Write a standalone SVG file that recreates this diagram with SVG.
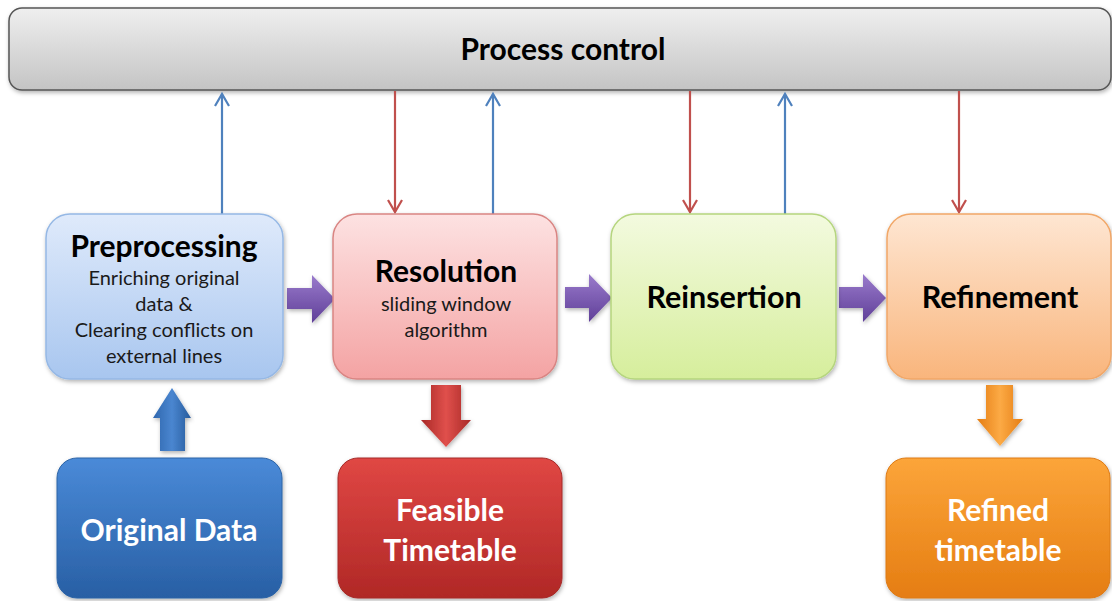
<svg xmlns="http://www.w3.org/2000/svg" width="1112" height="601" viewBox="0 0 1112 601">
<style>
.t{font-family:Lato,"Open Sans","Liberation Sans",sans-serif;text-anchor:middle}
.h{font-weight:bold;font-size:30px;fill:#000}
.m{font-weight:bold;font-size:30.5px;fill:#000}
.s{font-size:20px;fill:#1a1a1a}
.w{font-weight:bold;font-size:30px;fill:#fff}
.blue{stroke:#4f81bd;stroke-width:2.2;fill:none}
.red{stroke:#c0504d;stroke-width:2.2;fill:none}
</style>
<defs>
<filter id="sh" x="-10%" y="-10%" width="120%" height="130%"><feDropShadow dx="1" dy="2" stdDeviation="2" flood-color="#000" flood-opacity="0.3"/></filter>
<linearGradient id="gPC" x1="0" y1="0" x2="0" y2="1"><stop offset="0" stop-color="#efefef"/><stop offset="1" stop-color="#c4c4c4"/></linearGradient>
<linearGradient id="gPre" x1="0" y1="0" x2="0" y2="1"><stop offset="0" stop-color="#dfeafb"/><stop offset="1" stop-color="#a8c6ef"/></linearGradient>
<linearGradient id="gRes" x1="0" y1="0" x2="0" y2="1"><stop offset="0" stop-color="#fde2e2"/><stop offset="1" stop-color="#f4a3a3"/></linearGradient>
<linearGradient id="gRei" x1="0" y1="0" x2="0" y2="1"><stop offset="0" stop-color="#f3fadf"/><stop offset="1" stop-color="#d6ee9c"/></linearGradient>
<linearGradient id="gRef" x1="0" y1="0" x2="0" y2="1"><stop offset="0" stop-color="#fee6d2"/><stop offset="1" stop-color="#f9b57c"/></linearGradient>
<linearGradient id="gOD" x1="0" y1="0" x2="0" y2="1"><stop offset="0" stop-color="#4a8ad8"/><stop offset="1" stop-color="#285fa4"/></linearGradient>
<linearGradient id="gFT" x1="0" y1="0" x2="0" y2="1"><stop offset="0" stop-color="#e04744"/><stop offset="1" stop-color="#b02826"/></linearGradient>
<linearGradient id="gRT" x1="0" y1="0" x2="0" y2="1"><stop offset="0" stop-color="#fca53a"/><stop offset="1" stop-color="#e57d12"/></linearGradient>
<linearGradient id="gPu" x1="0" y1="0" x2="0" y2="1"><stop offset="0" stop-color="#9a7bcc"/><stop offset="1" stop-color="#5f3f98"/></linearGradient>
<linearGradient id="gBA" x1="0" y1="0" x2="1" y2="0"><stop offset="0" stop-color="#2f66ad"/><stop offset="0.5" stop-color="#4a86d0"/><stop offset="1" stop-color="#275b9c"/></linearGradient>
<linearGradient id="gRA" x1="0" y1="0" x2="1" y2="0"><stop offset="0" stop-color="#a82826"/><stop offset="0.5" stop-color="#e0504c"/><stop offset="1" stop-color="#a82826"/></linearGradient>
<linearGradient id="gOA" x1="0" y1="0" x2="1" y2="0"><stop offset="0" stop-color="#e57d12"/><stop offset="0.5" stop-color="#fcaa45"/><stop offset="1" stop-color="#e57d12"/></linearGradient>
</defs>

<g id="process-control">
<rect x="9" y="8" width="1102" height="82" rx="13" fill="url(#gPC)" stroke="#555" stroke-width="1.5" filter="url(#sh)"/>
<text class="t h" x="563" y="60">Process control</text>
</g>

<g id="connectors">
<line class="blue" x1="222" y1="214" x2="222" y2="94"/>
<path class="blue" d="M215,106 L222,94 L229,106"/>
<line class="red" x1="395" y1="91" x2="395" y2="212"/>
<path class="red" d="M388,200 L395,212 L402,200"/>
<line class="blue" x1="493" y1="214" x2="493" y2="94"/>
<path class="blue" d="M486,106 L493,94 L500,106"/>
<line class="red" x1="690" y1="91" x2="690" y2="212"/>
<path class="red" d="M683,200 L690,212 L697,200"/>
<line class="blue" x1="785" y1="214" x2="785" y2="94"/>
<path class="blue" d="M778,106 L785,94 L792,106"/>
<line class="red" x1="959" y1="91" x2="959" y2="212"/>
<path class="red" d="M952,200 L959,212 L966,200"/>
<path d="M287,288 L312,288 L312,275 L335,299 L312,323 L312,309 L287,309 Z" fill="url(#gPu)" filter="url(#sh)"/>
<path d="M565,287 L589,287 L589,274 L612,298 L589,322 L589,308 L565,308 Z" fill="url(#gPu)" filter="url(#sh)"/>
<path d="M839,287 L863,287 L863,274 L886,298 L863,322 L863,308 L839,308 Z" fill="url(#gPu)" filter="url(#sh)"/>
<path d="M160,451 L160,418 L153,418 L172,388 L191,418 L185,418 L185,451 Z" fill="url(#gBA)" filter="url(#sh)"/>
<path d="M431,385 L461,385 L461,420 L471,420 L446,447 L421,420 L431,420 Z" fill="url(#gRA)" filter="url(#sh)"/>
<path d="M986,385 L1013,385 L1013,419 L1023,419 L1000,446 L977,419 L986,419 Z" fill="url(#gOA)" filter="url(#sh)"/>
</g>

<g id="preprocessing">
<rect x="46" y="214" width="237" height="165" rx="24" fill="url(#gPre)" stroke="#95b8e5" stroke-width="1.5" filter="url(#sh)"/>
<text class="t h" x="164" y="257">Preprocessing</text>
<text class="t s" x="164" y="285">Enriching original</text>
<text class="t s" x="164" y="311">data &amp;</text>
<text class="t s" x="164" y="337">Clearing conflicts on</text>
<text class="t s" x="164" y="363">external lines</text>
</g>

<g id="resolution">
<rect x="333" y="214" width="224" height="165" rx="24" fill="url(#gRes)" stroke="#d98583" stroke-width="1.5" filter="url(#sh)"/>
<text class="t h" x="446" y="282">Resolution</text>
<text class="t s" x="446" y="311">sliding window</text>
<text class="t s" x="446" y="337">algorithm</text>
</g>

<g id="reinsertion">
<rect x="611" y="214" width="225" height="165" rx="24" fill="url(#gRei)" stroke="#b5d57e" stroke-width="1.5" filter="url(#sh)"/>
<text class="t m" x="724" y="308">Reinsertion</text>
</g>

<g id="refinement">
<rect x="887" y="214" width="224" height="165" rx="24" fill="url(#gRef)" stroke="#f1a767" stroke-width="1.5" filter="url(#sh)"/>
<text class="t m" x="1000" y="308">Refinement</text>
</g>

<g id="original-data">
<rect x="57" y="458" width="225" height="140" rx="20" fill="url(#gOD)" stroke="#2d64a6" stroke-width="1" filter="url(#sh)"/>
<text class="t w" x="169" y="541">Original Data</text>
</g>

<g id="feasible-timetable">
<rect x="338" y="458" width="224" height="140" rx="20" fill="url(#gFT)" stroke="#a52a28" stroke-width="1" filter="url(#sh)"/>
<text class="t w" x="450" y="521">Feasible</text>
<text class="t w" x="450" y="561">Timetable</text>
</g>

<g id="refined-timetable">
<rect x="886" y="458" width="224" height="140" rx="20" fill="url(#gRT)" stroke="#dd7a14" stroke-width="1" filter="url(#sh)"/>
<text class="t w" x="998" y="521">Refined</text>
<text class="t w" x="998" y="561">timetable</text>
</g>
</svg>
